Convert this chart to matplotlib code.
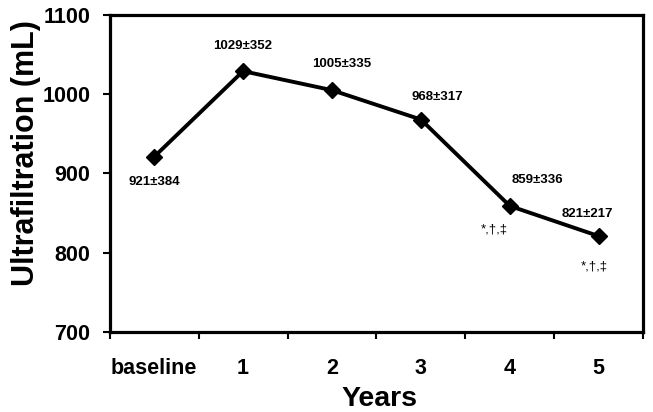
import matplotlib.pyplot as plt
import numpy as np

plt.rcParams['font.family'] = ['Liberation Sans', 'DejaVu Sans']

# data
categories = ["baseline", "1", "2", "3", "4", "5"]
uf_mean = [921, 1029, 1005, 968, 859, 821]
uf_sd = [384, 352, 335, 317, 336, 217]
signif = ["", "", "", "", "*,\u2020,\u2021", "*,\u2020,\u2021"]

# label offsets (points) relative to each marker
lab_dx = [0, 0, 7, 12, 20, -8]
lab_dy = [-18, 18, 19, 16.5, 19, 16]
sig_dx = [0, 0, 0, 0, -11, -3]
sig_dy = [0, 0, 0, 0, -17, -22]

x = np.arange(len(categories))

fig = plt.figure(figsize=(6.53, 4.12), dpi=100)
ax = fig.add_axes([0.168, 0.194, 0.817, 0.77])

ax.plot(x, uf_mean, color="black", lw=2.8, marker="D", ms=8.5, zorder=3)

for i in range(len(x)):
    ax.annotate(f"{uf_mean[i]}\u00b1{uf_sd[i]}", (x[i], uf_mean[i]),
                xytext=(lab_dx[i], lab_dy[i]), textcoords="offset points",
                ha="center", va="center", fontsize=9.5, fontweight="bold")
    if signif[i]:
        ax.annotate(signif[i], (x[i], uf_mean[i]),
                    xytext=(sig_dx[i], sig_dy[i]), textcoords="offset points",
                    ha="center", va="center", fontsize=9.5)

ax.set_xlim(-0.5, 5.5)
ax.set_ylim(700, 1100)
ax.set_yticks([700, 800, 900, 1000, 1100])
ax.set_xticks(x)
ax.set_xticklabels(categories)
ax.set_xticks(np.arange(-0.5, 6, 1), minor=True)
ax.tick_params(axis="x", which="major", length=0, pad=19)
ax.tick_params(axis="x", which="minor", length=5, width=1.5, direction="out")
ax.tick_params(axis="y", length=5, width=1.5, direction="out", pad=9)
for lab in ax.get_xticklabels() + ax.get_yticklabels():
    lab.set_fontsize(15.5)
    lab.set_fontweight("bold")

for s in ax.spines.values():
    s.set_linewidth(2.3)

ax.set_xlabel("Years", fontsize=20.5, fontweight="bold", va="baseline")
ax.xaxis.set_label_coords(0.505, -0.232)
ax.set_ylabel("Ultrafiltration (mL)", fontsize=22, fontweight="bold", va="center")
ax.yaxis.set_label_coords(-0.156, 0.565)

fig.savefig("out.png", dpi=100)
